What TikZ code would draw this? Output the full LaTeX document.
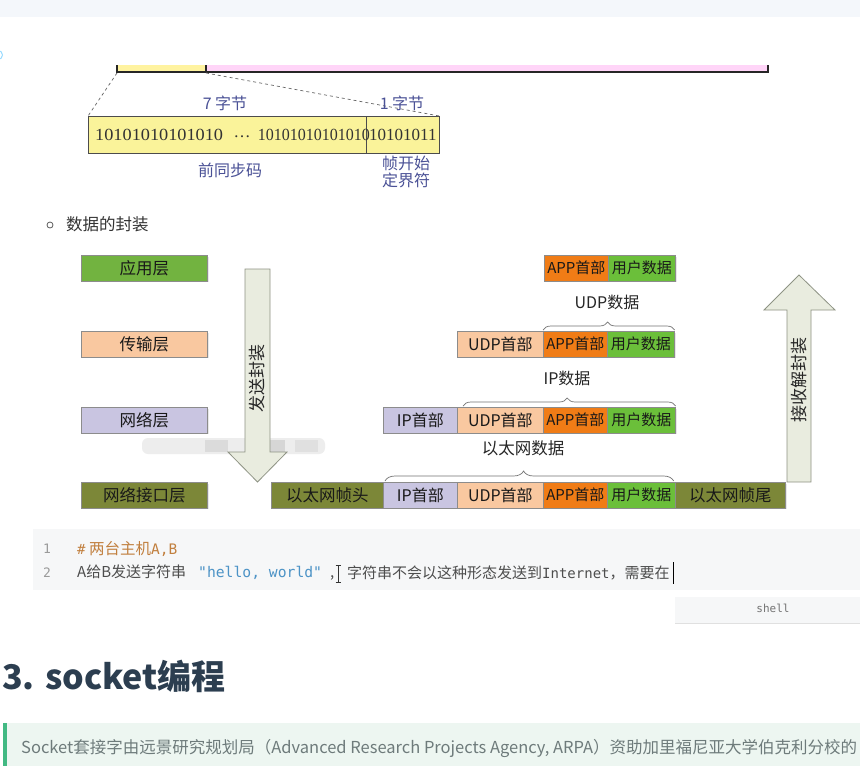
\documentclass[tikz,border=0pt]{standalone}
\usepackage{fontspec}
\setmainfont{Noto Sans CJK SC}
\newfontfamily\serifnum{Liberation Serif}
\newfontfamily\monof{DejaVu Sans Mono}
\usetikzlibrary{decorations.pathreplacing,shadows}
\newcommand\myfs[2]{\fontsize{#1}{#2}\selectfont}
\definecolor{topband}{HTML}{F4F7FB}
\definecolor{baryellow}{HTML}{FFF3A0}
\definecolor{barpink}{HTML}{FFD5F8}
\definecolor{boxyellow}{HTML}{FAF39A}
\definecolor{navy}{HTML}{4A5196}
\definecolor{appgreen}{HTML}{72B340}
\definecolor{peach}{HTML}{F9C8A0}
\definecolor{lav}{HTML}{C9C5E1}
\definecolor{olive}{HTML}{7C8738}
\definecolor{appor}{HTML}{F07C16}
\definecolor{ugreen}{HTML}{6BBF3A}
\definecolor{arrowfill}{HTML}{E9ECDF}
\definecolor{arrowdraw}{HTML}{8E9384}
\definecolor{codebg}{HTML}{F6F7F8}
\definecolor{cmt}{HTML}{C17F3E}
\definecolor{codetxt}{HTML}{4D4D4D}
\definecolor{strblue}{HTML}{4C93C6}
\definecolor{lnum}{HTML}{9A9A9A}
\definecolor{headc}{HTML}{2C3E50}
\definecolor{quotebg}{HTML}{EDF6F1}
\definecolor{quotebar}{HTML}{42B983}
\definecolor{quotetxt}{HTML}{6E7B7B}
\begin{document}
\begin{tikzpicture}[x=1pt,y=-1pt,
  cell/.style={draw=black!45, line width=0.7pt, anchor=north west, inner sep=0pt,
    minimum height=25.5pt, font=\myfs{15}{18}, text=black!90,
    drop shadow={opacity=0.18, shadow xshift=1.2pt, shadow yshift=-1.5pt}},
  layer/.style={cell, minimum width=126pt, font=\myfs{16.5}{20}},
  lbl/.style={font=\myfs{16}{19}, text=black!85, inner sep=0pt},
  navylbl/.style={font=\myfs{16}{17.5}, text=navy, inner sep=0pt, align=center},
  brc/.style={draw=black!55, line width=0.7pt, decorate,
    decoration={brace, amplitude=8pt, aspect=0.49}},
  arrowst/.style={fill=arrowfill, draw=arrowdraw, line width=0.8pt},
  bits/.style={font=\serifnum\myfs{17}{20}, text=black!80, inner sep=0pt}]
\useasboundingbox (0,0) rectangle (860,766);
\fill[white] (0,0) rectangle (860,766);
% top band
\fill[topband] (0,0) rectangle (860,17);
\draw[blue!35!cyan!40, line width=1pt] (-2,55) circle (4.5);
% frame bar
\fill[baryellow] (117,65) rectangle (206,71);
\fill[barpink] (206,65) rectangle (768,71);
\draw[black!85, line width=2pt] (117,65) -- (117,72) -- (768,72) -- (768,65);
\draw[black!85, line width=1.5pt] (206,65) -- (206,72);
\coordinate (barL) at (117,73);
\coordinate (barM) at (206,73);
% preamble box
\node[draw=black!70, fill=boxyellow, minimum width=351pt, minimum height=37pt,
  anchor=north west, inner sep=0pt] (pre) at (88,116) {};
\coordinate (divT) at (366,116);
\coordinate (divB) at (366,153);
\draw[black!70, line width=0.7pt] (divT) -- (divB);
\draw[black!60, dashed, line width=0.7pt] (barL) -- (pre.north west);
\draw[black!60, dashed, line width=0.7pt] (barM) -- (pre.north east);
\node[bits, anchor=west] (g1) at (95,135) {\scalebox{1.075}[1]{10101010101010}};
\node[bits] (ell) at (242,137) {\dots};
\node[bits, anchor=east] (g2) at (370,135) {\scalebox{0.94}[1]{10101010101010}};
\node[bits, anchor=west] (g3) at (369,135) {10101011};
\node[navylbl] (b7) at (225,103) {7 字节};
\node[navylbl] (b1) at (402,103) {1 字节};
\node[navylbl] (pcode) at (230,170) {前同步码};
\node[navylbl] (sfd) at (406,172) {帧开始\\定界符};
% section bullet
\draw[black!65, line width=0.8pt] (50,225) circle (3);
\node[anchor=west, inner sep=0pt, font=\myfs{16.5}{20}, text=black!80] (sec) at (66,224) {数据的封装};
% layer boxes
\node[layer, fill=appgreen] (Lapp) at (81,255) {应用层};
\node[layer, fill=peach] (Ltrans) at (81,331) {传输层};
\node[layer, fill=lav] (Lnet) at (81,407) {网络层};
\node[layer, fill=olive] (Llink) at (81,482) {网络接口层};
% blurred watermark
\fill[black!7, rounded corners=6pt] (142,438) rectangle (325,454);
\fill[black!14] (205,440) rectangle (228,452);
\fill[black!16] (262,440) rectangle (285,452);
\fill[black!12] (295,440) rectangle (318,452);
% send arrow
\draw[arrowst] (245,269) -- (270,269) -- (270,452) -- (287,452) -- (257.5,482)
  -- (228,452) -- (245,452) -- cycle;
\node[rotate=90, lbl, font=\myfs{17}{20}] (sendtxt) at (257.5,378) {发送封装};
% receive arrow
\draw[arrowst] (787,482) -- (787,310) -- (764,310) -- (799,275) -- (835,310)
  -- (811,310) -- (811,482) -- cycle;
\node[rotate=90, lbl, font=\myfs{17}{20}] (recvtxt) at (799,380) {接收解封装};
% row 1
\node[cell, fill=appor, minimum width=64pt] (app1) at (544,255) {APP首部};
\node[cell, fill=ugreen, minimum width=67pt] (usr1) at (608,255) {用户数据};
% row 2
\node[cell, fill=peach, minimum width=86pt, font=\myfs{16}{18}] (udp2) at (457,331) {UDP首部};
\node[cell, fill=appor, minimum width=64pt] (app2) at (543,331) {APP首部};
\node[cell, fill=ugreen, minimum width=67pt] (usr2) at (607,331) {用户数据};
% row 3
\node[cell, fill=lav, minimum width=74pt, font=\myfs{16}{18}] (ip3) at (383,407) {IP首部};
\node[cell, fill=peach, minimum width=86pt, font=\myfs{16}{18}] (udp3) at (457,407) {UDP首部};
\node[cell, fill=appor, minimum width=64pt] (app3) at (543,407) {APP首部};
\node[cell, fill=ugreen, minimum width=68pt] (usr3) at (607,407) {用户数据};
% row 4
\node[cell, fill=olive, minimum width=112pt, font=\myfs{16.5}{18}] (eh4) at (271,482) {以太网帧头};
\node[cell, fill=lav, minimum width=74pt, font=\myfs{16}{18}] (ip4) at (383,482) {IP首部};
\node[cell, fill=peach, minimum width=86pt, font=\myfs{16}{18}] (udp4) at (457,482) {UDP首部};
\node[cell, fill=appor, minimum width=64pt] (app4) at (543,482) {APP首部};
\node[cell, fill=ugreen, minimum width=68pt] (usr4) at (607,482) {用户数据};
\node[cell, fill=olive, minimum width=110pt, font=\myfs{16.5}{18}] (et4) at (675,482) {以太网帧尾};
% braces and labels
\draw[brc] ([yshift=1pt]app2.north west) -- ([yshift=1pt]usr2.north east);
\node[lbl] (udpdata) at (607,302) {UDP数据};
\draw[brc] ([xshift=6pt,yshift=1pt]udp3.north west) -- ([yshift=1pt]usr3.north east);
\node[lbl] (ipdata) at (567,378) {IP数据};
\draw[brc, decoration={brace, amplitude=10pt, aspect=0.48}] ([xshift=2pt,yshift=1pt]ip4.north west) -- ([xshift=-2pt,yshift=1pt]usr4.north east);
\node[lbl, font=\myfs{16.5}{19}] (ethdata) at (523,448) {以太网数据};
% code block
\fill[codebg] (33,529) rectangle (860,590);
\node[inner sep=0pt, font=\monof\myfs{13}{15}, text=lnum] (n1) at (47,549) {1};
\node[inner sep=0pt, font=\monof\myfs{13}{15}, text=lnum] (n2) at (47,573) {2};
\node[anchor=west, inner sep=0pt, font=\myfs{15.5}{18}, text=cmt] (c1) at (77,549)
  {{\monof\myfs{14}{18}\#} 两台主机{\monof\myfs{14.5}{18}A,B}};
\node[anchor=west, inner sep=0pt, font=\myfs{15}{18}, text=codetxt] (c2a) at (77,573)
  {A给B发送字符串\hspace{12pt}{\monof\myfs{14.7}{18}\color{strblue}"hello, world"}\hspace{8pt},};
\node[anchor=west, inner sep=0pt, font=\myfs{15}{18}, text=codetxt] (c2b) at (347,573)
  {字符串不会以这种形态发送到{\monof\myfs{14}{18}Internet}，需要在};
\draw[black!80, line width=0.8pt] (335.5,565) -- (340.5,565) (338,565) -- (338,582) (335.5,582) -- (340.5,582);
\draw[black, line width=1pt] ([xshift=4pt]c2b.east) ++(0,-11) -- ++(0,22);
% shell tab
\fill[codebg] (675,597) rectangle (860,623);
\draw[black!12, line width=1pt] (675,623.5) -- (860,623.5);
\node[inner sep=0pt, font=\monof\myfs{11}{13}, text=black!55] (shell) at (773,608) {shell};
% heading
\node[anchor=west, inner sep=0pt, font=\bfseries\myfs{34}{38}, text=headc] (h3) at (2,676) {3. socket编程};
% quote
\fill[quotebg] (3,723) rectangle (860,766);
\fill[quotebar] (3,723) rectangle (7,766);
\node[anchor=west, inner sep=0pt, font=\myfs{16.5}{20}, text=quotetxt] (q) at (21,748)
  {Socket套接字由远景研究规划局（Advanced Research Projects Agency, ARPA）资助加里福尼亚大学伯克利分校的};
\end{tikzpicture}
\end{document}
